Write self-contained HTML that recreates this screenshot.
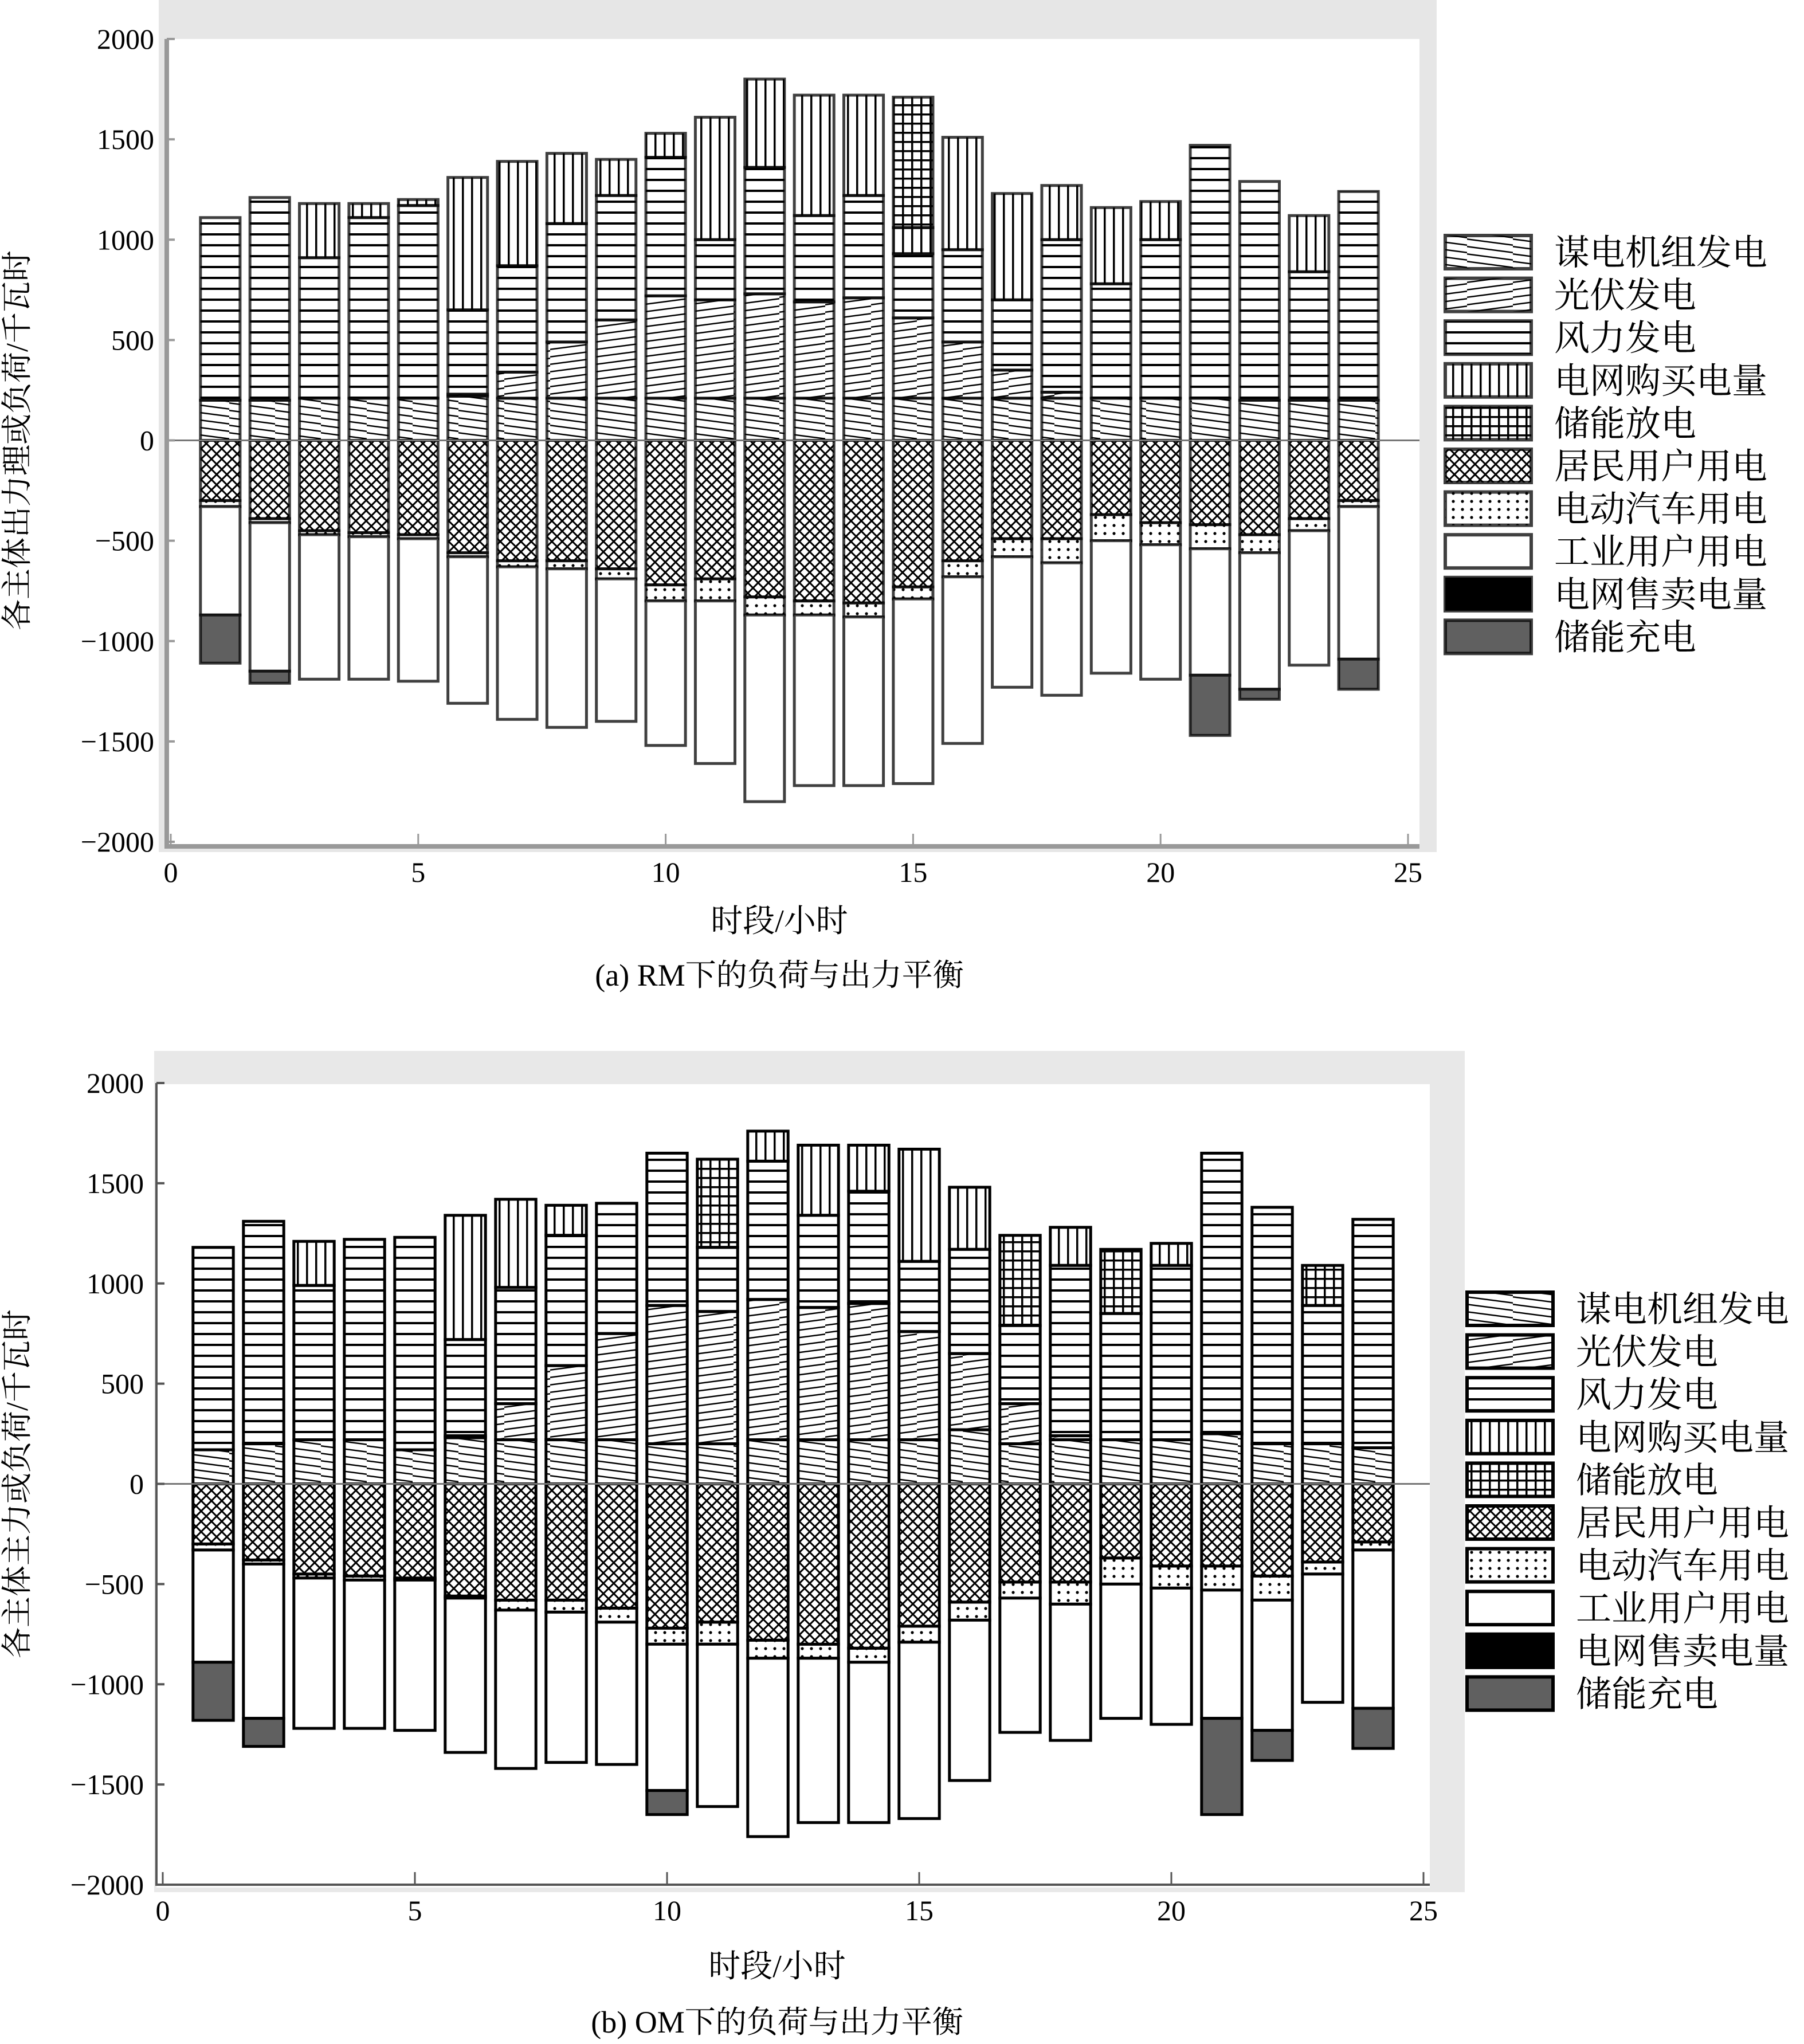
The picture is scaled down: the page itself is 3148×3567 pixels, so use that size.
<!DOCTYPE html>
<html><head><meta charset="utf-8"><style>
body{margin:0;background:#fff;}
svg{display:block;font-family:"Liberation Serif","Noto Serif CJK SC",serif;}
</style></head><body>
<svg id="c" width="3148" height="3567" viewBox="0 0 3148 3567">
<defs>
<pattern id="pCoal" patternUnits="userSpaceOnUse" width="80" height="26"><path d="M-10,0 L90,13 M-10,13 L90,26 M-10,-13 L90,0" stroke="#000" stroke-width="2.5"/></pattern>
<pattern id="pPv" patternUnits="userSpaceOnUse" width="80" height="26"><path d="M-10,13 L90,0 M-10,26 L90,13 M-10,39 L90,26" stroke="#000" stroke-width="2.5"/></pattern>
<pattern id="pWind" patternUnits="userSpaceOnUse" width="20" height="19"><rect x="0" y="8" width="20" height="4" fill="#000"/></pattern>
<pattern id="pGrid" patternUnits="userSpaceOnUse" width="16" height="20"><rect x="6" y="0" width="3.5" height="20" fill="#000"/></pattern>
<pattern id="pDis" patternUnits="userSpaceOnUse" width="16" height="16"><rect x="6" y="0" width="3.5" height="16" fill="#000"/><rect x="0" y="6" width="16" height="3.5" fill="#000"/></pattern>
<pattern id="pRes" patternUnits="userSpaceOnUse" width="18" height="18"><path d="M0,0 L18,18 M18,0 L0,18" stroke="#000" stroke-width="3"/></pattern>
<pattern id="pEv" patternUnits="userSpaceOnUse" width="16" height="14"><circle cx="8" cy="7" r="2.6" fill="#000"/></pattern>
<pattern id="pDots" patternUnits="userSpaceOnUse" width="14" height="30"><rect x="0" y="13" width="6" height="3" fill="#bbb"/></pattern>
</defs>
<g id="chartA"></g>
<g id="chartB"></g>
</svg>
<script>
const hours=[1,2,3,4,5,6,7,8,9,10,11,12,13,14,15,16,17,18,19,20,21,22,23,24];
const yTicks=[2000,1500,1000,500,0,-500,-1000,-1500,-2000];
const yTickLabels=["2000","1500","1000","500","0","\u2212500","\u22121000","\u22121500","\u22122000"];
const xTicks=[0,5,10,15,20,25];
const seriesNames=["谋电机组发电","光伏发电","风力发电","电网购买电量","储能放电","居民用户用电","电动汽车用电","工业用户用电","电网售卖电量","储能充电"];
// Chart A (RM)
const aCoal=[200,200,210,210,210,220,210,210,210,210,210,210,210,210,210,210,210,210,210,210,210,200,200,200];
const aPv=[0,0,0,0,0,10,130,280,390,510,490,520,480,500,400,280,140,30,0,0,0,0,0,0];
const aWind=[910,1010,700,900,960,420,530,590,620,690,300,630,430,510,320,460,350,760,570,790,1260,1090,640,1040];
const aDis=[0,0,0,0,0,0,0,0,0,0,0,0,0,0,650,0,0,0,0,0,0,0,0,0];
const aGrid=[0,0,270,70,30,660,520,350,180,120,610,440,600,500,130,560,530,270,380,190,0,0,280,0];
const aRes=[300,390,450,460,470,560,600,600,640,720,690,780,800,810,730,600,490,490,370,410,420,470,390,300];
const aEv=[30,20,20,20,20,20,30,40,50,80,110,90,70,70,60,80,90,120,130,110,120,90,60,30];
const aInd=[540,740,720,710,710,730,760,790,710,720,810,930,850,840,920,830,650,660,660,670,630,680,670,760];
const aSale=[0,0,0,0,0,0,0,0,0,0,0,0,0,0,0,0,0,0,0,0,0,0,0,0];
const aCharge=[240,60,0,0,0,0,0,0,0,0,0,0,0,0,0,0,0,0,0,0,300,50,0,150];
// Chart B (OM)
const bCoal=[170,200,220,220,170,230,220,220,220,200,200,220,220,220,220,270,200,220,220,220,250,200,200,180];
const bPv=[0,0,0,0,0,10,180,370,530,690,660,700,660,680,540,380,200,20,0,0,0,0,0,0];
const bWind=[1010,1110,770,1000,1060,480,580,650,650,760,320,690,460,560,350,520,390,850,630,870,1400,1180,690,1140];
const bDis=[0,0,0,0,0,0,0,0,0,0,440,0,0,0,0,0,450,0,320,0,0,0,200,0];
const bGrid=[0,0,220,0,0,620,440,150,0,0,0,150,350,230,560,310,0,190,0,110,0,0,0,0];
const bRes=[300,380,450,460,470,560,580,580,620,720,690,780,800,820,710,590,490,490,370,410,410,460,390,290];
const bEv=[30,20,20,20,10,10,50,60,70,80,110,90,70,70,80,90,80,110,130,110,120,120,60,40];
const bInd=[560,770,750,740,750,770,790,750,710,730,810,890,820,800,880,800,670,680,670,680,640,650,640,790];
const bSale=[0,0,0,0,0,0,0,0,0,0,0,0,0,0,0,0,0,0,0,0,0,0,0,0];
const bCharge=[290,140,0,0,0,0,0,0,0,120,0,0,0,0,0,0,0,0,0,0,480,150,0,200];

const NS="http://www.w3.org/2000/svg";
function mk(parent,tag,attrs,text){const e=document.createElementNS(NS,tag);for(const k in attrs)e.setAttribute(k,attrs[k]);if(text!==undefined)e.textContent=text;parent.appendChild(e);return e;}
const fills=["url(#pCoal)","url(#pPv)","url(#pWind)","url(#pGrid)","url(#pDis)","url(#pRes)","url(#pEv)","#fff","#000","#606060"];
const keys=["coal","pv","wind","grid-buy","discharge","resident","ev","industrial","grid-sell","charge"];

function draw(g,cfg,pos,neg){
  const xS=v=>cfg.x0+(cfg.x25-cfg.x0)*v/25;
  const yS=v=>cfg.y0+(cfg.yN-cfg.y0)*(2000-v)/4000;
  const bg=mk(g,'rect',{x:cfg.gx,y:cfg.gy,width:cfg.gw,height:cfg.gh,fill:cfg.gfill});
  
  
  const pl=mk(g,'rect',{x:cfg.px,y:cfg.py,width:cfg.pw,height:cfg.ph,fill:'#fff'});
  
  
  const op=cfg.op;
  // bars
  hours.forEach((h,i)=>{
    const w=(cfg.x25-cfg.x0)/25*0.8, x=xS(h)-w/2;
    let acc=0;
    pos.forEach((arr,s)=>{const v=arr[i];if(v<=0)return;
      const r=mk(g,'rect',{x:x,y:yS(acc+v),width:w,height:yS(acc)-yS(acc+v),fill:fills[s],stroke:'#000','stroke-width':5,'stroke-opacity':op});
      
      
      acc+=v;});
    acc=0;
    neg.forEach((arr,s)=>{const v=arr[i];if(v<=0)return;
      const r=mk(g,'rect',{x:x,y:yS(acc),width:w,height:yS(acc-v)-yS(acc),fill:fills[s+5],stroke:'#000','stroke-width':5,'stroke-opacity':op});
      
      
      acc-=v;});
  });
  const zl=mk(g,'line',{x1:cfg.px,x2:cfg.px+cfg.pw,y1:yS(0),y2:yS(0),stroke:'#777','stroke-width':3});
  
  
  // axes
  const ax=mk(g,'path',{d:`M${cfg.ax},${yS(2000)} L${cfg.ax},${cfg.ay} L${cfg.px+cfg.pw},${cfg.ay}`,fill:'none',stroke:cfg.axc,'stroke-width':cfg.axw});
  
  
  yTicks.forEach((t,k)=>{
    mk(g,'line',{x1:cfg.ax,x2:cfg.ax+14,y1:yS(t),y2:yS(t),stroke:cfg.axc,'stroke-width':4});
    const tx=mk(g,'text',{x:cfg.ax-22,y:yS(t)+17,'text-anchor':'end','font-size':50},yTickLabels[k]);
    
    
  });
  xTicks.forEach(t=>{
    mk(g,'line',{x1:xS(t),x2:xS(t),y1:cfg.ay,y2:cfg.ay-22,stroke:cfg.axc,'stroke-width':3});
    const tx=mk(g,'text',{x:xS(t),y:cfg.ay+62,'text-anchor':'middle','font-size':50},String(t));
    
    
  });
  const yt=mk(g,'text',{x:0,y:0,'text-anchor':'middle','font-size':54,transform:`translate(${cfg.ytx},${yS(0)}) rotate(-90)`},cfg.ytitle);
  
  
  const xt=mk(g,'text',{x:cfg.xtx,y:cfg.xty,'text-anchor':'middle','font-size':56},'时段/小时');
  
  
  const cp=mk(g,'text',{x:cfg.xtx,y:cfg.cy,'text-anchor':'middle','font-size':54},cfg.caption);
  
  
  // legend
  seriesNames.forEach((n,s)=>{
    const cy=cfg.ly+s*74.6;
    const r=mk(g,'rect',{x:cfg.lx,y:cy-29,width:150,height:58,fill:fills[s],stroke:'#000','stroke-width':6,'stroke-opacity':op});
    
    
    const t=mk(g,'text',{x:cfg.lx+190,y:cy+22,'font-size':62},n);
    
    
  });
}
draw(document.getElementById('chartA'),{x0:298,x25:2457,y0:68,yN:1469,gx:277,gy:0,gw:2230,gh:1487,gfill:'#e6e6e6',px:291,py:68,pw:2186,ph:1410,ax:291,ay:1477,axc:'#999',axw:8,op:0.75,ytx:48,ytitle:'各主体出力理或负荷/千瓦时',xtx:1360,xty:1626,cy:1720,caption:'(a) RM下的负荷与出力平衡',lx:2522,ly:440},
 [aCoal,aPv,aWind,aGrid,aDis],[aRes,aEv,aInd,aSale,aCharge]);
draw(document.getElementById('chartB'),{x0:284,x25:2484,y0:1890,yN:3289,gx:269,gy:1834,gw:2287,gh:1468,gfill:'#e8e8e8',px:273,py:1892,pw:2222,ph:1402,ax:273,ay:3289,axc:'#555',axw:4,op:1,ytx:48,ytitle:'各主体主力或负荷/千瓦时',xtx:1356,xty:3450,cy:3547,caption:'(b) OM下的负荷与出力平衡',lx:2560,ly:2284},
 [bCoal,bPv,bWind,bGrid,bDis],[bRes,bEv,bInd,bSale,bCharge]);
</script>
</body></html>
